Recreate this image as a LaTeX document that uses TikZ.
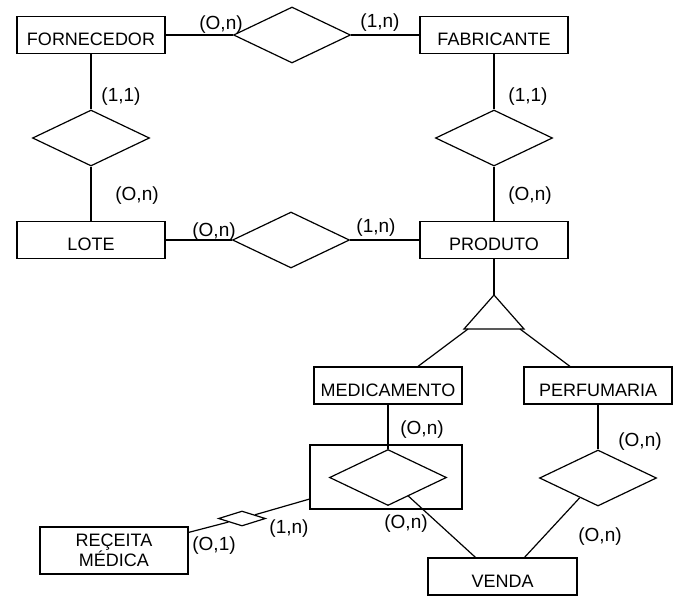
\documentclass[tikz,border=0pt]{standalone}
\usepackage{fontspec}
\setmainfont{Liberation Sans}
\usetikzlibrary{shapes.geometric}

\begin{document}
\begin{tikzpicture}[x=1pt, y=-1pt, line width=1.2pt,
    caixa/.style={draw, rectangle, minimum width=148pt, minimum height=37pt, inner sep=0pt, font=\fontsize{18}{20}\selectfont},
    ent/.style={caixa, text height=21pt, text depth=0pt},
    rel/.style={draw, diamond, inner sep=0pt, minimum width=117pt, minimum height=56pt},
    card/.style={inner sep=0pt, font=\fontsize{19}{19}\selectfont}]
    \useasboundingbox (0,0) rectangle (692,614);

    % Entidades
    \node[ent] (forn) at (91, 35) {FORNECEDOR};
    \node[ent] (fabr) at (494, 35) {FABRICANTE};
    \node[ent] (lote) at (91, 240) {LOTE};
    \node[ent] (prod) at (494, 240) {PRODUTO};
    \node[ent] (medic) at (388, 385.5) {MEDICAMENTO};
    \node[ent] (perf) at (598, 385.5) {PERFUMARIA};
    \node[ent, minimum width=149pt] (venda) at (502.5, 576.5) {VENDA};
    \node[caixa, minimum height=47pt, align=center, font=\fontsize{18}{19}\selectfont] (receita) at (114, 550.5) {REÇEITA\\MÉDICA};

    % Relacionamentos
    \node[rel] (rFF) at (292, 35) {};
    \node[rel] (rFL) at (91, 138) {};
    \node[rel] (rFP) at (494, 138) {};
    \node[rel] (rLP) at (291, 240) {};
    \node[draw, rectangle, minimum width=152pt, minimum height=64pt] (agg) at (386, 477) {};
    \node[rel] (rMV) at (388, 477.5) {};
    \node[rel] (rPV) at (598, 478) {};
    \node[rel, minimum width=47pt, minimum height=15pt] (rRM) at (242, 518.5) {};

    % Especializacao
    \coordinate (tri) at (494, 295);
    \coordinate (triL) at (464, 329);
    \coordinate (triR) at (524, 329);
    \draw (tri) -- (triL) -- (triR) -- cycle;

    % Ligacoes
    \draw (forn) -- (rFF) -- (fabr);
    \draw (forn) -- (rFL) -- (lote);
    \draw (fabr) -- (rFP) -- (prod);
    \draw (lote) -- (rLP) -- (prod);
    \draw (prod.south) -- (tri);
    \draw ([xshift=4pt]triL) -- ([xshift=30pt]medic.north);
    \draw ([xshift=-4pt]triR) -- ([xshift=-28pt]perf.north);
    \draw (medic) -- (rMV);
    \draw (rMV) -- ([xshift=-27pt]venda.north);
    \draw (perf) -- (rPV);
    \draw (rPV) -- ([xshift=22pt]venda.north);
    \draw ([yshift=-6pt]receita.north east) -- (rRM);
    \draw (rRM) -- (agg);

    % Cardinalidades
    \node[card] (c1) at (221, 25) {(O,n)};
    \node[card] (c2) at (380, 23) {(1,n)};
    \node[card] (c3) at (121, 97) {(1,1)};
    \node[card] (c4) at (137, 196) {(O,n)};
    \node[card] (c5) at (214, 232) {(O,n)};
    \node[card] (c6) at (376, 228) {(1,n)};
    \node[card] (c7) at (528, 97) {(1,1)};
    \node[card] (c8) at (530, 196) {(O,n)};
    \node[card] (c9) at (422, 430) {(O,n)};
    \node[card] (c10) at (406, 524) {(O,n)};
    \node[card] (c11) at (640, 442) {(O,n)};
    \node[card] (c12) at (600, 537) {(O,n)};
    \node[card] (c13) at (214, 546) {(O,1)};
    \node[card] (c14) at (289, 529) {(1,n)};

\end{tikzpicture}
\end{document}
